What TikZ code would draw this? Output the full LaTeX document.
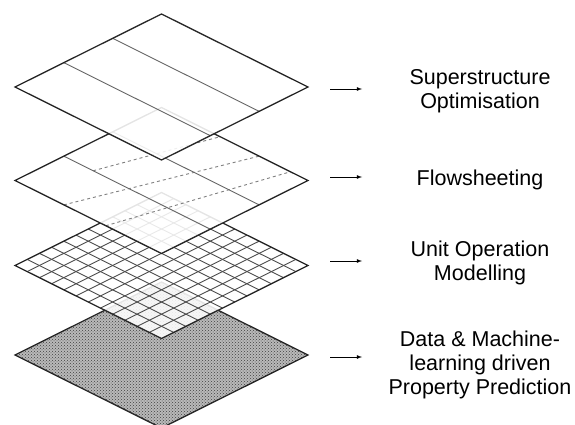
\documentclass[tikz,border=0pt]{standalone}
\usepackage{fontspec}
\setmainfont{Liberation Sans}
\usepackage{tikz}
\usetikzlibrary{calc,patterns}

\begin{document}
\begin{tikzpicture}[x=1pt, y=-1pt,
    layer/.style={draw=black!85, line width=1.3pt, line join=miter},
    sheet/.style={fill=white, fill opacity=0.88},
    divline/.style={gray!80!black, line width=0.9pt},
    subline/.style={gray, line width=0.9pt, dash pattern=on 3pt off 3pt},
    gridline/.style={gray!60!black, line width=0.9pt},
    label/.style={font=\fontsize{21.5}{24}\selectfont, align=center},
    level arrow/.style={-latex, line width=0.8pt}]
  \useasboundingbox (0,0) rectangle (575,425);
  % corners of the four sheets (left, top, right, bottom)
  \coordinate (L1) at (15,87);    \coordinate (T1) at (161.5,14);
  \coordinate (R1) at (308,87);   \coordinate (B1) at (161.5,160);
  \coordinate (L2) at (15,180.5); \coordinate (T2) at (161.5,107.5);
  \coordinate (R2) at (308,180.5);\coordinate (B2) at (161.5,253.5);
  \coordinate (L3) at (15,265.5); \coordinate (T3) at (161.5,192.5);
  \coordinate (R3) at (308,265.5);\coordinate (B3) at (161.5,338.5);
  \coordinate (L4) at (15,355);   \coordinate (T4) at (161.5,282);
  \coordinate (R4) at (308,355);  \coordinate (B4) at (161.5,428);
  % property prediction
  \fill[gray!55] (L4) -- (T4) -- (R4) -- (B4) -- cycle;
  \fill[pattern=crosshatch dots, pattern color=black!75] (L4) -- (T4) -- (R4) -- (B4) -- cycle;
  \draw[layer] (L4) -- (T4) -- (R4) -- (B4) -- cycle;
  % unit operation
  \fill[sheet] (L3) -- (T3) -- (R3) -- (B3) -- cycle;
  \foreach \i in {1,...,11} {
    \draw[gridline] ($(L3)!\i/12!(T3)$) -- ($(B3)!\i/12!(R3)$);
    \draw[gridline] ($(L3)!\i/12!(B3)$) -- ($(T3)!\i/12!(R3)$);
  }
  \draw[layer] (L3) -- (T3) -- (R3) -- (B3) -- cycle;
  % flowsheeting
  \fill[sheet] (L2) -- (T2) -- (R2) -- (B2) -- cycle;
  \coordinate (u1) at ($(L2)!1/3!(T2)$); \coordinate (u1e) at ($(B2)!1/3!(R2)$);
  \coordinate (u2) at ($(L2)!2/3!(T2)$); \coordinate (u2e) at ($(B2)!2/3!(R2)$);
  \draw[subline] ($(u1)!0.2!(u1e)$) -- ($(T2)!0.4!(R2)$);
  \draw[subline] ($(L2)!1/3!(B2)$) -- ($(T2)!2/3!(R2)$);
  \draw[subline] ($(L2)!0.62!(B2)$) -- ($(T2)!0.88!(R2)$);
  \draw[divline] (u1) -- (u1e);
  \draw[divline] (u2) -- (u2e);
  \draw[layer] (L2) -- (T2) -- (R2) -- (B2) -- cycle;
  % superstructure
  \fill[sheet] (L1) -- (T1) -- (R1) -- (B1) -- cycle;
  \draw[divline] ($(L1)!1/3!(T1)$) -- ($(B1)!1/3!(R1)$);
  \draw[divline] ($(L1)!2/3!(T1)$) -- ($(B1)!2/3!(R1)$);
  \draw[layer] (L1) -- (T1) -- (R1) -- (B1) -- cycle;
  % arrows and labels
  \coordinate (a1) at (330,89);  \coordinate (e1) at (362,89);
  \coordinate (a2) at (330,177); \coordinate (e2) at (362,177);
  \coordinate (a3) at (330,261); \coordinate (e3) at (362,261);
  \coordinate (a4) at (330,357); \coordinate (e4) at (362,357);
  \draw[level arrow] (a1) -- (e1);
  \draw[level arrow] (a2) -- (e2);
  \draw[level arrow] (a3) -- (e3);
  \draw[level arrow] (a4) -- (e4);
  \node[label] (super) at (480,91) {Superstructure\\Optimisation};
  \node[label] (flow) at (480,180) {Flowsheeting};
  \node[label] (unitop) at (480,262.5) {Unit Operation\\Modelling};
  \node[label] (prop) at (480,365) {Data \& Machine-\\learning driven\\Property Prediction};
\end{tikzpicture}
\end{document}
